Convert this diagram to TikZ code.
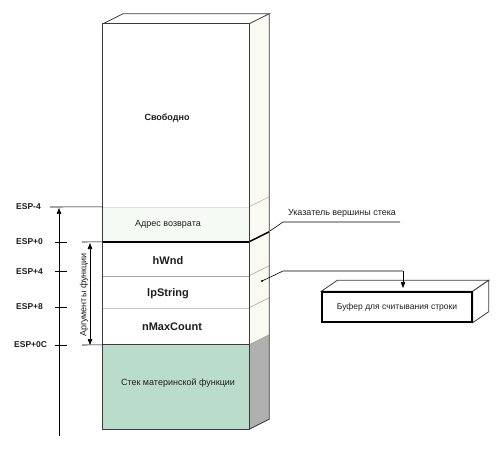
\documentclass[tikz,border=0pt]{standalone}
\usepackage{fontspec}
\setmainfont{Liberation Sans}
\usetikzlibrary{arrows.meta,calc}
\definecolor{mint}{RGB}{186,221,203}
\definecolor{sidegray}{RGB}{176,176,176}
\definecolor{cream}{RGB}{250,250,242}
\definecolor{faint}{RGB}{246,250,244}
\definecolor{edge}{RGB}{60,60,60}
\definecolor{txt}{RGB}{30,30,30}
\tikzset{
  edgeline/.style={draw=edge, line width=0.8pt},
  thinsep/.style={draw=gray!70, line width=0.6pt},
  bigtxt/.style={font=\fontsize{11}{13}\selectfont\bfseries, text=txt, inner sep=0pt},
  midtxt/.style={font=\fontsize{9}{11}\selectfont, text=txt, inner sep=0pt},
  buftxt/.style={font=\fontsize{8.5}{10}\selectfont, text=txt, inner sep=0pt},
  boldmid/.style={font=\fontsize{9}{11}\selectfont\bfseries, text=txt, inner sep=0pt},
  esp/.style={font=\fontsize{8.5}{10}\selectfont\bfseries, text=txt, inner sep=0pt, anchor=west},
  tick/.style={draw=black, line width=0.7pt},
  arr/.style={draw=black, line width=0.7pt, -{Triangle[length=6pt,width=4.5pt]}},
  darr/.style={draw=black, line width=0.7pt, {Triangle[length=6pt,width=4.5pt]}-{Triangle[length=6pt,width=4.5pt]}},
  lead/.style={draw=black, line width=0.6pt}
}
\begin{document}
\begin{tikzpicture}[x=1pt,y=-1pt]
\useasboundingbox (0,0) rectangle (500,454);
% ---- main stack box: side faces
\fill[white] (103,24) -- (123,14) -- (269,14) -- (249,24) -- cycle;
\fill[cream] (249,24) -- (269,14) -- (269,335) -- (249,345) -- cycle;
\fill[sidegray] (249,345) -- (269,335) -- (269,419) -- (249,429) -- cycle;
% ---- front cells
\node[draw=none, fill=white, minimum width=146pt, minimum height=183pt, inner sep=0pt] (free) at (176,115.5) {};
\node[draw=none, fill=faint, minimum width=146pt, minimum height=35pt, inner sep=0pt] (ret) at (176,224.5) {};
\node[draw=none, fill=white, minimum width=146pt, minimum height=34pt, inner sep=0pt] (hwnd) at (176,259) {};
\node[draw=none, fill=white, minimum width=146pt, minimum height=32pt, inner sep=0pt] (lps) at (176,292) {};
\node[draw=none, fill=white, minimum width=146pt, minimum height=37pt, inner sep=0pt] (nmax) at (176,326.5) {};
\node[draw=none, fill=mint, minimum width=146pt, minimum height=84pt, inner sep=0pt] (parent) at (176,387) {};
% separators on front
\draw[draw=gray!25, line width=0.5pt] (ret.north west) -- (ret.north east);
\draw[draw=black, line width=1.6pt] (hwnd.north west) -- (hwnd.north east);
\draw[thinsep] (lps.north west) -- (lps.north east);
\draw[draw=gray!45, line width=0.6pt] (nmax.north west) -- (nmax.north east);
\draw[draw=edge, line width=0.9pt] (parent.north west) -- (parent.north east);
% separators on side face
\draw[draw=gray!60, line width=0.6pt] (ret.north east) -- ++(20,-10);
\draw[draw=black, line width=1.4pt] (hwnd.north east) -- ++(20,-10) coordinate (spcorner);
\draw[thinsep] (lps.north east) -- ++(20,-10);
\draw[thinsep] (nmax.north east) -- ++(20,-10);
\draw[draw=gray!80, line width=0.6pt] (parent.north east) -- ++(20,-10);
% outline
\draw[edgeline] (free.north west) rectangle (parent.south east);
\draw[edgeline] (free.north west) -- ++(20,-10) -- ($(free.north east)+(20,-10)$) -- (free.north east);
\draw[edgeline] ($(free.north east)+(20,-10)$) -- ($(parent.south east)+(20,-10)$) -- (parent.south east);
% texts
\node[boldmid] (tfree) at (167,118) {Свободно};
\node[midtxt] (tret) at (168,224) {Адрес возврата};
\node[bigtxt] (thwnd) at (168,261) {hWnd};
\node[bigtxt] (tlps) at (168,294) {lpString};
\node[bigtxt] (tnmax) at (172,327) {nMaxCount};
\node[midtxt] (tparent) at (178,383) {Стек материнской функции};
% ---- left labels
\node[esp] (e0) at (16,207) {ESP-4};
\node[esp] (e1) at (16,242) {ESP+0};
\node[esp] (e2) at (16,272) {ESP+4};
\node[esp] (e3) at (16,307) {ESP+8};
\node[esp] (e4) at (14,345) {ESP+0C};
\coordinate (l0) at (50,207);
\draw[lead] (l0) -- (ret.north west);
\coordinate (t1a) at (55,242); \coordinate (t1b) at (67,242);
\coordinate (t2a) at (55,271); \coordinate (t2b) at (67,271);
\coordinate (t3a) at (55,307); \coordinate (t3b) at (67,307);
\coordinate (t4a) at (55,345); \coordinate (t4b) at (67,345);
\draw[tick] (t1a) -- (t1b);
\draw[tick] (t2a) -- (t2b);
\draw[tick] (t3a) -- (t3b);
\draw[tick] (t4a) -- (t4b);
\coordinate (abot) at (59,436); \coordinate (atop) at (59,208);
\draw[arr] (abot) -- (atop);
\coordinate (h1) at (82,242); \coordinate (h2) at (82,345);
\draw[lead] (h1) -- (hwnd.north west);
\draw[lead] (h2) -- (parent.north west);
\coordinate (d1) at (90,243); \coordinate (d2) at (90,345);
\draw[darr] (d1) -- (d2);
\node[midtxt, rotate=90] (targs) at (84,295) {Аргументы функции};
% ---- stack pointer label
\node[midtxt] (tsp) at (342,213) {Указатель вершины стека};
\coordinate (sp1) at (400,222); \coordinate (sp2) at (283,222);
\draw[lead] (sp1) -- (sp2) -- ([shift={(1,-1)}]spcorner);
% ---- buffer box
\node[draw=black, line width=1.4pt, fill=white, minimum width=150pt, minimum height=30pt, inner sep=0pt, buftxt] (buf) at (397,307) {Буфер для считывания строки};
\draw[edgeline, fill=white] (buf.north west) -- ++(16,-11) -- ($(buf.north east)+(16,-11)$) -- (buf.north east) -- cycle;
\draw[edgeline, fill=white] (buf.north east) -- ++(16,-11) -- ($(buf.south east)+(16,-11)$) -- (buf.south east) -- cycle;
\draw[draw=black, line width=1.4pt] (buf.north west) rectangle (buf.south east);
% ---- lpString pointer
\coordinate (dot) at (262,281);
\fill[black] (dot) circle (1.2pt);
\coordinate (p1) at (283,271); \coordinate (p2) at (403,271); \coordinate (p3) at (403,288);
\draw[lead] (dot) -- (p1) -- (p2);
\draw[draw=black, line width=0.6pt, -{Triangle[length=6pt,width=4.5pt]}] (p2) -- (p3);
\end{tikzpicture}
\end{document}
